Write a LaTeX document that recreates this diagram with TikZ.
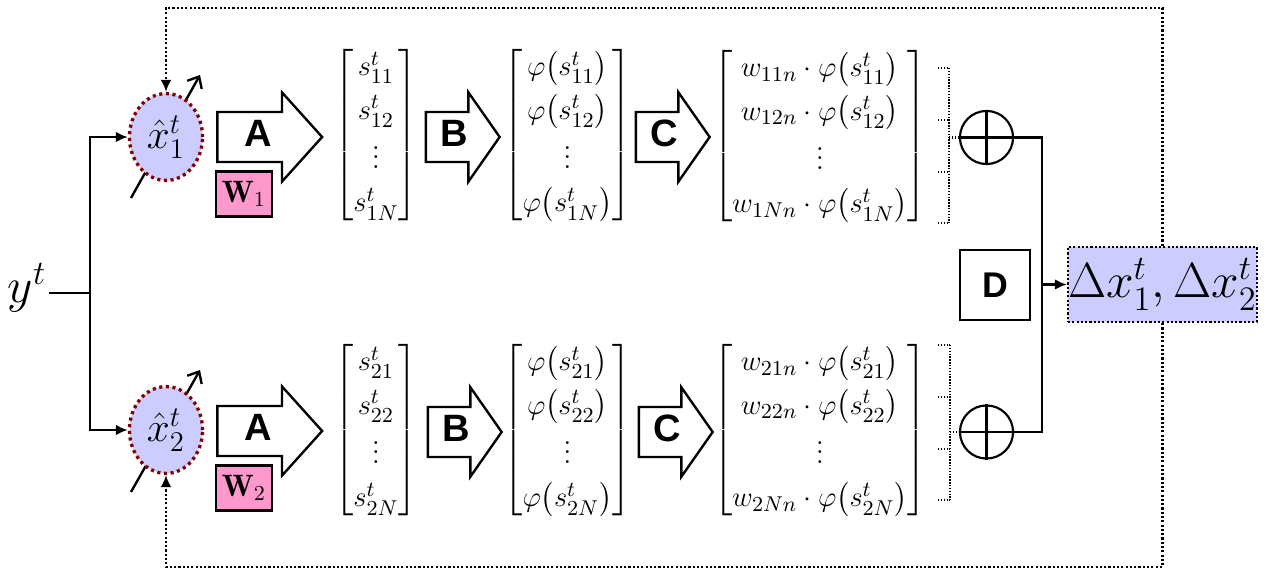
\documentclass[tikz,border=0pt]{standalone}
\usepackage{amsmath}
\usepackage{fontspec}
\newfontfamily\arialfont{Liberation Sans}
\usetikzlibrary{shapes.arrows,shapes.geometric,arrows.meta,calc}
\definecolor{wpink}{RGB}{255,153,204}
\definecolor{darkred}{RGB}{128,0,0}
\renewcommand{\arraystretch}{1.17}
\newcommand{\phis}[1]{\varphi\mathopen{}\left(s^t_{#1}\right)}
\begin{document}
\begin{tikzpicture}[x=0.42pt,y=-0.42pt,
  every node/.style={font=\fontsize{12.5}{15.5}\selectfont},
  tip/.style={-{Latex[length=5pt,width=4.5pt]}},
  conn/.style={line width=1pt},
  fb/.style={line width=1pt,dash pattern=on 0.9pt off 0.9pt},
  brace/.style={line width=0.9pt,dash pattern=on 0.6pt off 0.6pt},
  est/.style={ellipse,draw=darkred,line width=1.4pt,dash pattern=on 1.3pt off 1.5pt,fill=blue!20,minimum width=30.7pt,minimum height=36.5pt,inner sep=0pt,font=\fontsize{17}{17}\selectfont},
  bigarrow/.style={single arrow,draw,line width=1pt,fill=white,inner sep=0pt,text height=14pt,text depth=6pt,single arrow head extend=8.25pt,font=\arialfont\bfseries\fontsize{16}{16}\selectfont},
  wbox/.style={draw,line width=1pt,fill=wpink,minimum width=23.5pt,minimum height=19pt,inner sep=0pt,font=\fontsize{13}{13}\selectfont},
  mat/.style={inner sep=0pt},
  sumc/.style={circle,draw,line width=0.9pt,minimum size=22.3pt,inner sep=0pt}]
  \useasboundingbox (0,0) rectangle (1271,578);
  % adjustable estimators
  \coordinate (d1s) at (131,198); \coordinate (d1e) at (200,75);
  \coordinate (d2s) at (131,492); \coordinate (d2e) at (200,370);
  \draw[conn,-{Straight Barb[length=4pt,width=7pt]}] (d1s) -- (d1e);
  \draw[conn,-{Straight Barb[length=4pt,width=7pt]}] (d2s) -- (d2e);
  \node[est] (x1) at (166,137) {$\hat{x}^t_1$};
  \node[est] (x2) at (166,430) {$\hat{x}^t_2$};
  % input
  \node[anchor=base,inner sep=1pt,font=\fontsize{20}{20}\selectfont] (yt) at (27,302) {$y^t$};
  \coordinate (split) at (90,293);
  \draw[conn] (yt.east |- split) -- (split);
  \draw[conn,tip] (split) |- (x1.west);
  \draw[conn,tip] (split) |- (x2.west);
  % branch 1
  \node[bigarrow,minimum height=44pt,single arrow tip angle=96] (a1) at (258.5,137) {A};
  \node[wbox] (w1) at (244,194) {$\mathbf{W}_1$};
  \node[mat] (m1a) at (376,135) {$\begin{bmatrix} s^t_{11}\\ s^t_{12}\\ \vdots\\ s^t_{1N} \end{bmatrix}$};
  \node[bigarrow,minimum height=31pt,single arrow tip angle=110] (b1) at (454,137) {B};
  \node[mat] (m2a) at (567.5,135) {$\begin{bmatrix} \phis{11}\\ \phis{12}\\ \vdots\\ \phis{1N} \end{bmatrix}$};
  \node[bigarrow,minimum height=31pt,single arrow tip angle=110] (c1) at (664,137) {C};
  \node[mat] (m3a) at (820,136) {$\begin{bmatrix} w_{11n}\cdot\phis{11}\\ w_{12n}\cdot\phis{12}\\ \vdots\\ w_{1Nn}\cdot\phis{1N} \end{bmatrix}$};
  \node[sumc] (s1) at (986.5,137.5) {};
  \draw[line width=0.9pt] (s1.north) -- (s1.south) (s1.west) -- (s1.east);
  \draw[brace] (949,68) -- (949,223);
  \foreach \y in {68,120,172,223} \draw[brace] (938,\y) -- (949,\y);
  \draw[brace] (949,137.5) -- (s1.west);
  % branch 2
  \node[bigarrow,minimum height=44pt,single arrow tip angle=96] (a2) at (258.5,431) {A};
  \node[wbox] (w2) at (244,488) {$\mathbf{W}_2$};
  \node[mat] (m1b) at (376,430) {$\begin{bmatrix} s^t_{21}\\ s^t_{22}\\ \vdots\\ s^t_{2N} \end{bmatrix}$};
  \node[bigarrow,minimum height=31pt,single arrow tip angle=110] (b2) at (456,432) {B};
  \node[mat] (m2b) at (567.5,430) {$\begin{bmatrix} \phis{21}\\ \phis{22}\\ \vdots\\ \phis{2N} \end{bmatrix}$};
  \node[bigarrow,minimum height=31pt,single arrow tip angle=110] (c2) at (667,432) {C};
  \node[mat] (m3b) at (820,430) {$\begin{bmatrix} w_{21n}\cdot\phis{21}\\ w_{22n}\cdot\phis{22}\\ \vdots\\ w_{2Nn}\cdot\phis{2N} \end{bmatrix}$};
  \node[sumc] (s2) at (986.5,432) {};
  \draw[line width=0.9pt] (s2.north) -- (s2.south) (s2.west) -- (s2.east);
  \draw[brace] (950,345) -- (950,500);
  \foreach \y in {345,397,449,500} \draw[brace] (938,\y) -- (950,\y);
  \draw[brace] (950,432) -- (s2.west);
  % combination and output
  \draw[conn] (s1.east) -- ++(28,0) coordinate (bus) |- (s2.east);
  \node[draw,line width=1pt,minimum size=29.4pt,inner sep=0pt,font=\arialfont\bfseries\fontsize{15}{15}\selectfont] (d) at (995,285) {D};
  \node[draw,fb,fill=blue!20,minimum width=79.4pt,minimum height=31.5pt,inner sep=0pt,font=\fontsize{19.5}{20}\selectfont] (dx) at (1162.5,284.5) {$\Delta x^t_1,\Delta x^t_2$};
  \draw[conn,tip] (bus |- dx.west) -- (dx.west);
  % feedback
  \coordinate (fbt) at (166,8);
  \coordinate (fbb) at (166,567);
  \draw[fb,tip] (dx.north) |- (fbt) -- (x1.north);
  \draw[fb,tip] (dx.south) |- (fbb) -- (x2.south);
\end{tikzpicture}
\end{document}
